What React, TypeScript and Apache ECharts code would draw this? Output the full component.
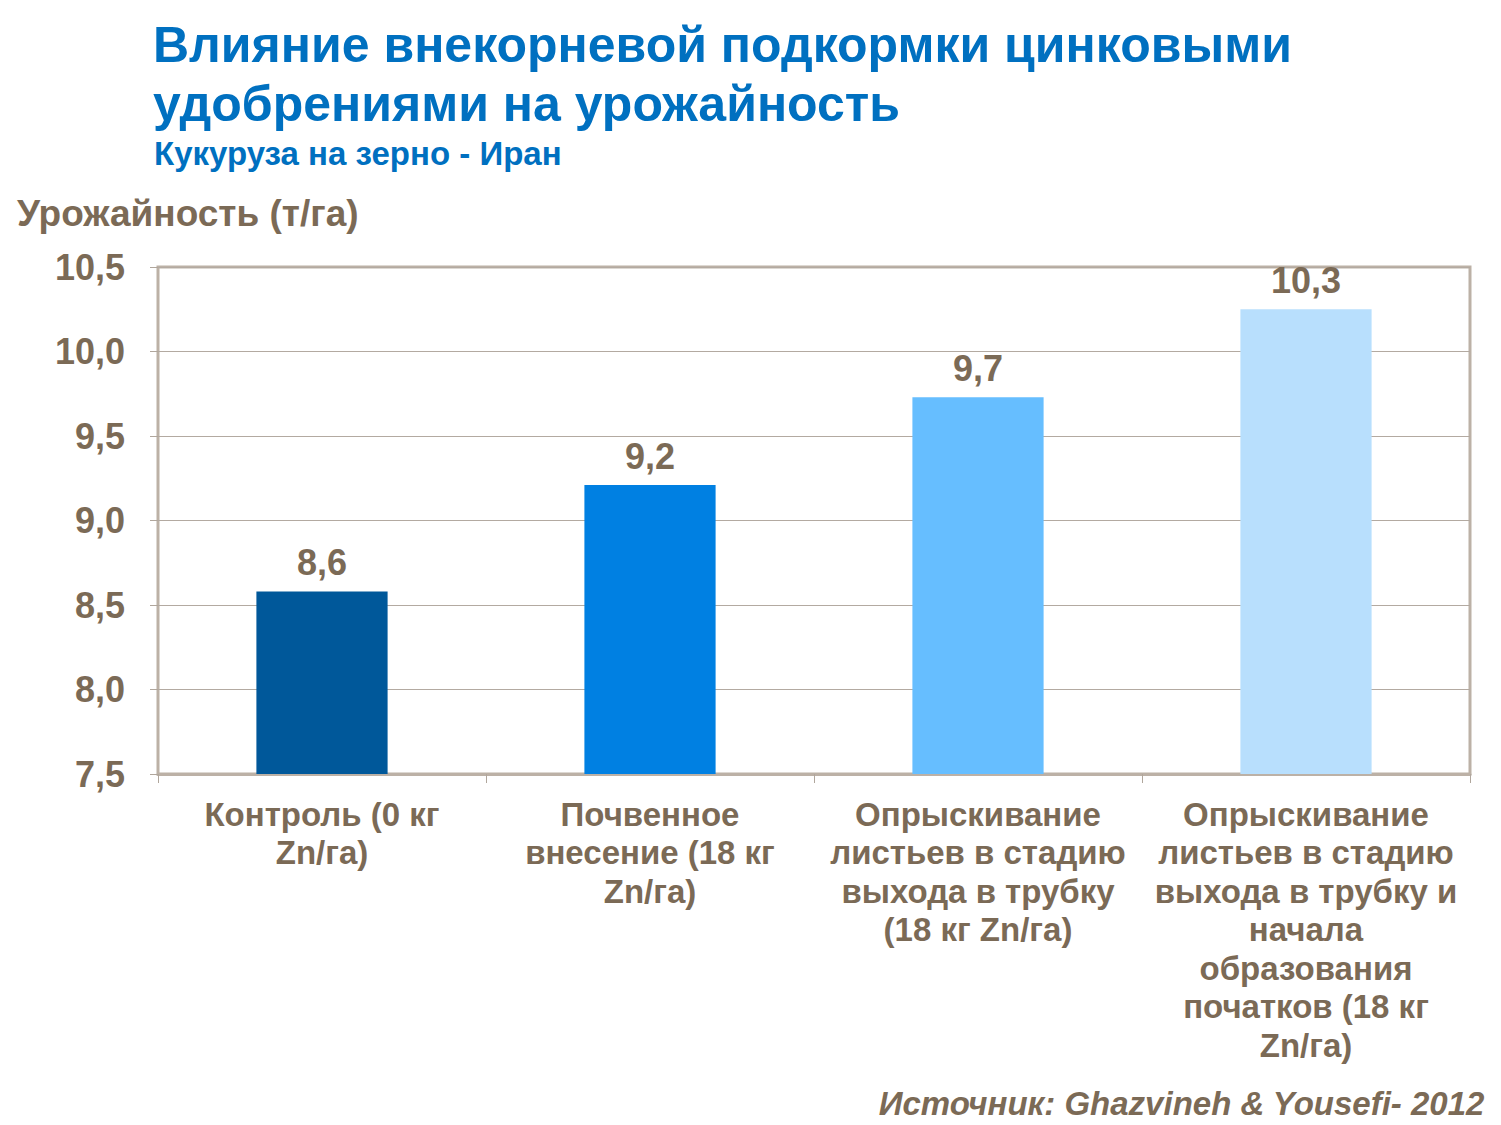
import React, { useEffect, useRef } from "react";
import * as echarts from "echarts";

const categories = [
  "Контроль (0 кг\nZn/га)",
  "Почвенное\nвнесение (18 кг\nZn/га)",
  "Опрыскивание\nлистьев в стадию\nвыхода в трубку\n(18 кг Zn/га)",
  "Опрыскивание\nлистьев в стадию\nвыхода в трубку и\nначала\nобразования\nпочатков (18 кг\nZn/га)",
];
const yieldValues = [8.58, 9.21, 9.73, 10.25];
const barColors = ["#00589A", "#0080E2", "#66BEFF", "#B8DFFD"];
const titleText = "Влияние внекорневой подкормки цинковыми\nудобрениями на урожайность";
const subtitleText = "Кукуруза на зерно - Иран";
const yAxisTitle = "Урожайность (т/га)";
const sourceText = "Источник: Ghazvineh & Yousefi- 2012";

const FONT = '"Liberation Sans", sans-serif';
const BROWN = "#7B6A56";
const BLUE = "#0070C0";

const fmt = (v: number) => v.toFixed(1).replace(".", ",");

export default function App() {
  const ref = useRef<HTMLDivElement>(null);
  useEffect(() => {
    document.body.style.margin = "0";
    const chart = echarts.init(ref.current!, undefined, { renderer: "svg" });
    chart.setOption({
      animation: false,
      backgroundColor: "#ffffff",
      title: [
        {
          text: titleText,
          left: 148,
          top: 10,
          textStyle: {
            fontFamily: FONT,
            fontWeight: "bold",
            fontSize: 50,
            lineHeight: 59,
            color: BLUE,
          },
        },
        {
          text: subtitleText,
          left: 149,
          top: 132,
          textStyle: {
            fontFamily: FONT,
            fontWeight: "bold",
            fontSize: 33,
            color: BLUE,
          },
        },
      ],
      graphic: [
        {
          type: "text",
          left: 17,
          top: 195,
          style: {
            text: yAxisTitle,
            font: `bold 37px ${FONT}`,
            fill: BROWN,
          },
        },
        {
          type: "text",
          right: 16,
          top: 1087,
          style: {
            text: sourceText,
            font: `italic bold 33px ${FONT}`,
            fill: BROWN,
          },
        },
      ],
      grid: {
        left: 158,
        right: 31,
        top: 267,
        bottom: 351,
        show: true,
        borderColor: "#BCB1A6",
        borderWidth: 3,
        backgroundColor: "transparent",
      },
      xAxis: {
        type: "category",
        data: categories,
        boundaryGap: true,
        axisLine: { show: true, lineStyle: { color: "#BCB1A6", width: 3 } },
        axisTick: { show: true, length: 9, lineStyle: { color: "#B0A69C", width: 1 } },
        axisLabel: {
          margin: 21,
          fontFamily: FONT,
          fontWeight: "bold",
          fontSize: 33,
          lineHeight: 38.5,
          color: BROWN,
          interval: 0,
          align: "center",
        },
      },
      yAxis: {
        type: "value",
        min: 7.5,
        max: 10.5,
        interval: 0.5,
        axisLine: { show: false },
        axisTick: { show: true, length: 8, lineStyle: { color: "#B0A69C", width: 1 } },
        splitLine: { show: true, lineStyle: { color: "#B3AAA1", width: 1 } },
        axisLabel: {
          margin: 33,
          fontFamily: FONT,
          fontWeight: "bold",
          fontSize: 36,
          color: BROWN,
          formatter: (v: number) => fmt(v),
        },
      },
      series: [
        {
          type: "bar",
          barWidth: "40%",
          data: yieldValues.map((v, i) => ({ value: v, itemStyle: { color: barColors[i] } })),
          label: {
            show: true,
            position: "top",
            distance: 11,
            fontFamily: FONT,
            fontWeight: "bold",
            fontSize: 36,
            color: BROWN,
            formatter: (p: any) => fmt(p.value),
          },
        },
      ],
    });
    return () => chart.dispose();
  }, []);
  return <div ref={ref} style={{ width: 1501, height: 1125 }} />;
}
